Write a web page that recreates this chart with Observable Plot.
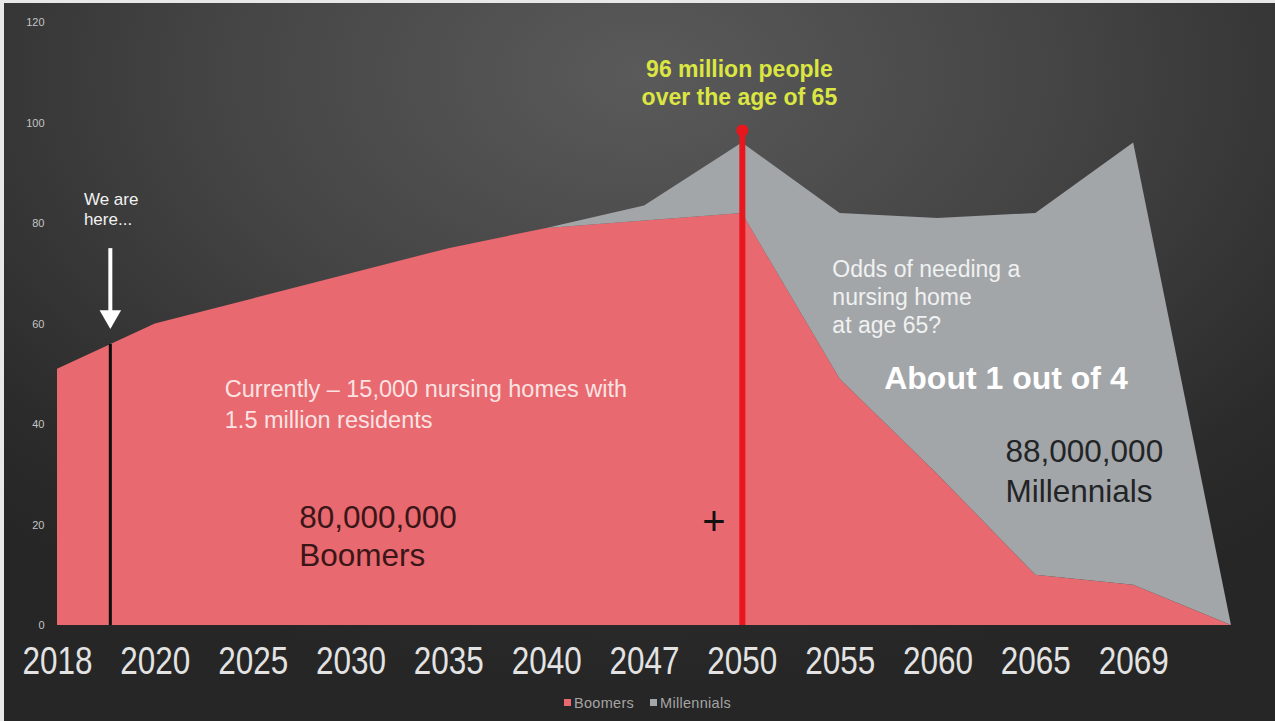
<!DOCTYPE html>
<html>
<head>
<meta charset="utf-8">
<script src="https://cdn.jsdelivr.net/npm/d3@7"></script>
<script src="https://cdn.jsdelivr.net/npm/@observablehq/plot@0.6"></script>
<style>
  html, body { margin: 0; padding: 0; background: #2a2a2a; }
  #wrap {
    position: relative; width: 1275px; height: 721px; overflow: hidden;
    background: radial-gradient(ellipse 75% 85% at 50% 10%, #5a5a5a 0%, #444 45%, #2b2b2b 85%, #262626 100%);
    font-family: "Liberation Sans", Arial, sans-serif;
    box-sizing: border-box; border-left: 4px solid #e8e8e8; border-top: 3px solid #e8e8e8;
  }
  #chart { position: absolute; left: -4px; top: -3px; }
  #legend {
    position: absolute; left: 0; top: 692px; width: 1275px; text-align: center; line-height: 17px;
    font-size: 14.5px; color: #a4a4a4; letter-spacing: 0.3px; padding-left: 12px; box-sizing: border-box;
  }
  #legend span.sw { display: inline-block; width: 7px; height: 7px; margin-right: 3px; vertical-align: 2px; }
  #legend span.item { margin: 0 8px; }
</style>
</head>
<body>
<div id="wrap">
  <div id="chart"></div>
  <div id="legend"></div>
</div>
<script>
// ---- data ----
const years = ["2018","2020","2025","2030","2035","2040","2047","2050","2055","2060","2065","2069",""];
const boomers = [51, 60, 65, 70, 75, 79, 80.5, 82, 49, 30, 10, 8, 0];
const millennials = [0, 0, 0, 0, 0, 0, 3, 14, 33, 51, 72, 88, 0];
const seriesNames = ["Boomers", "Millennials"];
const seriesColors = ["#e8696f", "#a3a6a9"];
const yTicks = [0, 20, 40, 60, 80, 100, 120];

// annotations (data coordinates: x = category index, y = value)
const hereX = 0.54;          // "We are here" (≈2019)
const hereTop = 55.9;
const arrowFrom = 75, arrowHead = 61.5;
const peakIndex = 7;         // 2050
const peakTop = 98.5;

const notes = [
  {x: 0.27, y: 83, text: "We are\nhere...", size: 17, weight: "normal", fill: "#f2f2f2", anchor: "start", lh: 1.2},
  {x: 6.97, y: 108.2, text: "96 million people\nover the age of 65", size: 23, weight: "bold", fill: "#dbe643", anchor: "middle", lh: 1.22},
  {x: 7.92, y: 65.6, text: "Odds of needing a\nnursing home\nat age 65?", size: 23, weight: "normal", fill: "#f0f1f1", anchor: "start", lh: 1.22},
  {x: 8.45, y: 49.6, text: "About 1 out of 4", size: 32, weight: "bold", fill: "#ffffff", anchor: "start", lh: 1.2},
  {x: 9.69, y: 31.2, text: "88,000,000\nMillennials", size: 31.5, weight: "normal", fill: "#222426", anchor: "start", lh: 1.27},
  {x: 1.71, y: 44.3, text: "Currently \u2013 15,000 nursing homes with\n1.5 million residents", size: 23.5, weight: "normal", fill: "#fbe3e3", anchor: "start", lh: 1.28},
  {x: 2.47, y: 18, text: "80,000,000\nBoomers", size: 31.5, weight: "normal", fill: "#3a1618", anchor: "start", lh: 1.2},
  {x: 6.71, y: 20.5, text: "+", size: 40, weight: "normal", fill: "#111111", anchor: "middle", lh: 1}
];

// ---- build table ----
const rows = [];
seriesNames.forEach((s, k) => {
  const vals = k === 0 ? boomers : millennials;
  vals.forEach((v, i) => rows.push({i, series: s, value: v}));
});

const textMarks = notes.map(n => Plot.text([n], {
  x: "x", y: "y", text: "text", fontSize: n.size, fontWeight: n.weight,
  fill: n.fill, textAnchor: n.anchor, lineHeight: n.lh,
  fontFamily: "Liberation Sans, Arial, sans-serif"
}));

const chart = Plot.plot({
  width: 1275,
  height: 690,
  marginLeft: 57,
  marginRight: 44,
  marginTop: 22,
  marginBottom: 65,
  style: {background: "transparent", fontFamily: "Liberation Sans, Arial, sans-serif", overflow: "visible"},
  x: {type: "linear", domain: [0, years.length - 1]},
  y: {domain: [0, 120]},
  color: {domain: seriesNames, range: seriesColors},
  marks: [
    Plot.areaY(rows, Plot.stackY({x: "i", y: "value", fill: "series", order: null})),
    Plot.axisY({ticks: yTicks, tickSize: 0, tickPadding: 13, fontSize: 11, fill: "#c4c4c4", label: null}),
    Plot.axisX({
      ticks: d3.range(0, years.length - 1), tickFormat: i => years[i],
      tickSize: 0, tickPadding: 22, fontSize: 38, fill: "#e3e3e3", label: null
    }),
    Plot.ruleX([hereX], {y1: 0, y2: hereTop, stroke: "#0c0c0c", strokeWidth: 3}),
    Plot.ruleX([hereX], {y1: arrowFrom, y2: arrowHead, stroke: "#ffffff", strokeWidth: 4}),
    Plot.dot([{x: hereX, y: arrowHead}], {x: "x", y: "y", symbol: "triangle", rotate: 180, r: 8, fill: "#ffffff", stroke: "none"}),
    Plot.ruleX([peakIndex], {y1: 0, y2: peakTop, stroke: "#e8161d", strokeWidth: 6}),
    Plot.dot([{x: peakIndex, y: peakTop}], {x: "x", y: "y", r: 6, fill: "#e8161d"}),
    ...textMarks
  ]
});
document.getElementById("chart").appendChild(chart);

// condense the large year labels to the reference's narrow look
d3.select(chart).selectAll('g[aria-label="x-axis tick label"] text')
  .attr("textLength", 70).attr("lengthAdjust", "spacingAndGlyphs");

// legend
const lg = document.getElementById("legend");
seriesNames.forEach((s, k) => {
  const item = document.createElement("span");
  item.className = "item";
  const sw = document.createElement("span");
  sw.className = "sw";
  sw.style.background = seriesColors[k];
  item.appendChild(sw);
  item.appendChild(document.createTextNode(s));
  lg.appendChild(item);
});
</script>
</body>
</html>
